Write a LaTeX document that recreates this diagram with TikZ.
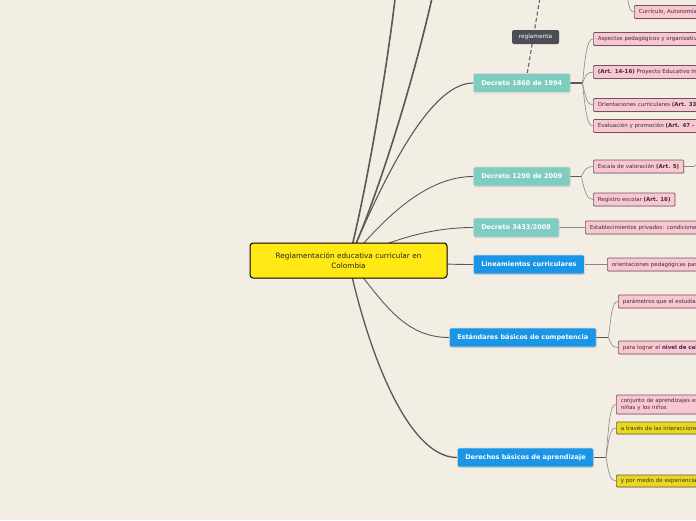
\documentclass[tikz,border=0pt]{standalone}
\usepackage{fontspec}
\setmainfont{DejaVu Sans}
\usetikzlibrary{backgrounds, shadows}
\definecolor{paper}{RGB}{243,238,227}
\definecolor{rootyellow}{RGB}{255,232,20}
\definecolor{leafyellow}{RGB}{232,216,30}
\definecolor{decteal}{RGB}{127,205,193}
\definecolor{linblue}{RGB}{27,150,230}
\definecolor{leafpink}{RGB}{250,198,210}
\definecolor{pinkedge}{RGB}{110,85,92}
\definecolor{tagdark}{RGB}{75,78,84}
\definecolor{branchgray}{RGB}{88,88,92}
\definecolor{twiggray}{RGB}{140,135,130}

\begin{document}
\begin{tikzpicture}[
    x=1pt, y=-1pt,
    rootbox/.style={rectangle, rounded corners=3pt, draw=black, line width=1pt, fill=rootyellow, minimum width=197pt, minimum height=35pt, align=center, text=black!85, font=\fontsize{7.3}{10}\selectfont},
    topic/.style={rectangle, rounded corners=1.5pt, draw=white!85!black, line width=0.6pt, minimum height=19pt, inner xsep=8pt, inner ysep=0pt, text=white, font=\fontsize{6.5}{7.8}\selectfont\bfseries, drop shadow={shadow xshift=0.5pt, shadow yshift=-0.8pt, opacity=0.3}},
    decreto/.style={topic, fill=decteal},
    guia/.style={topic, fill=linblue},
    leaf/.style={rectangle, rounded corners=1pt, draw=pinkedge, line width=0.7pt, fill=leafpink, minimum height=13pt, inner xsep=4.5pt, inner ysep=1.5pt, anchor=west, text=black!80, font=\fontsize{5.5}{6.7}\selectfont, drop shadow={shadow xshift=0.4pt, shadow yshift=-0.7pt, opacity=0.3}},
    leafy/.style={leaf, fill=leafyellow, minimum height=12pt},
    edgeleaf/.style={text width=140pt, align=left},
    tag/.style={rectangle, rounded corners=1.5pt, fill=tagdark, text=white, minimum width=47pt, minimum height=14pt, inner sep=0pt, font=\fontsize{5.8}{7}\selectfont},
    branch/.style={draw=branchgray, line width=0.9pt},
    twig/.style={draw=twiggray, line width=0.6pt},
    link/.style={draw=gray!85!black, line width=1.2pt, dash pattern=on 4pt off 2.5pt}
]
\useasboundingbox (0,0) rectangle (696,520);

% Root
\node[rootbox] (root) at (348.5,260.5) {Reglamentación educativa curricular en\\Colombia};

% Branches that run off the top
\coordinate (hid1) at (398,-30);
\coordinate (hid2) at (438,-30);
\coordinate (hid3) at (543,-20);
\coordinate (hid4) at (712,150);
\coordinate (hid5) at (627,-20);

% Decreto 1860
\node[decreto, anchor=west] (d1860) at (473,83) {Decreto 1860 de 1994};
\node[tag] (regl) at (535.5,37) {reglamenta};
\node[leaf, edgeleaf] (cur) at (634,12) {Currículo, Autonomía};
\node[leaf, edgeleaf] (asp) at (593,39) {Aspectos pedagógicos y organizativos};
\node[leaf, edgeleaf] (pei) at (593,72) {\textbf{(Art. 14-16)} Proyecto Educativo Institucional};
\node[leaf, edgeleaf] (ori) at (593,105) {Orientaciones curriculares \textbf{(Art. 33}};
\node[leaf, edgeleaf] (eva) at (593,126) {Evaluación y promoción \textbf{(Art. 47 -}};

% Decreto 1290
\node[decreto, anchor=west] (d1290) at (473,176.5) {Decreto 1290 de 2009};
\node[leaf] (esc) at (593,166.5) {Escala de valoración \textbf{(Art. 5)}};
\node[leaf] (reg) at (593,199.5) {Registro escolar \textbf{(Art. 16)}};

% Decreto 3433
\node[decreto, anchor=west] (d3433) at (473,227.5) {Decreto 3433/2008};
\node[leaf, edgeleaf] (priv) at (585,227.5) {Establecimientos privados: condiciones};

% Lineamientos
\node[guia, anchor=west] (lin) at (473,264.5) {Lineamientos curriculares};
\node[leaf, edgeleaf] (ope) at (607,264.5) {orientaciones pedagógicas para};

% Estandares
\node[guia, anchor=west] (estd) at (449,337.5) {Estándares básicos de competencia};
\node[leaf, edgeleaf] (par) at (618,301.5) {parámetros que el estudiante};
\node[leaf, edgeleaf] (niv) at (618,347.5) {para lograr el \textbf{nivel de calidad}};

% Derechos
\node[guia, anchor=west] (der) at (457,457.5) {Derechos básicos de aprendizaje};
\node[leaf, edgeleaf, minimum height=19pt] (con) at (616,404.5) {conjunto de aprendizajes estructurantes\\niñas y los niños};
\node[leafy, edgeleaf] (tra) at (616,428) {a través de las interacciones};
\node[leafy, edgeleaf] (exp) at (616,481) {y por medio de experiencias};

% Junctions
\coordinate (j1860) at ([xshift=12pt]d1860.east);
\coordinate (j1290) at ([xshift=11pt]d1290.east);
\coordinate (jestd) at ([xshift=12pt]estd.east);
\coordinate (jder) at ([xshift=12pt]der.east);

\begin{scope}[on background layer]
\fill[paper] (0,0) rectangle (696,520);

% root branches
\draw[branch, line width=1.6pt] (root.center) .. controls (368,185) and (392,40) .. (hid1);
\draw[branch, line width=1.6pt] (root.center) .. controls (375,205) and (418,70) .. (hid2);
\draw[branch, line width=1.1pt] (root.center) .. controls (375,200) and (425,83) .. (d1860.west);
\draw[branch] (root.center) .. controls (375,230) and (420,176.5) .. (d1290.west);
\draw[branch] (root.center) .. controls (390,240) and (430,227.5) .. (d3433.west);
\draw[branch] (root.center) .. controls (400,262) and (440,264.5) .. (lin.west);
\draw[branch] (root.center) .. controls (380,295) and (400,337.5) .. (estd.west);
\draw[branch, line width=1.3pt] (root.center) .. controls (365,340) and (405,457.5) .. (der.west);

% reglamenta link
\draw[link] ([xshift=5.5pt]d1860.north) -- (hid3);

% twigs
\draw[branch, line width=1.2pt] (d1860.east) -- (j1860);
\draw[twig] (hid5) .. controls +(0,22) and +(-5,0) .. (cur.west);
\draw[twig] (j1860) .. controls +(3,-29) and +(-6,0) .. (asp.west);
\draw[twig] (j1860) .. controls +(3,-7) and +(-6,0) .. (pei.west);
\draw[twig] (j1860) .. controls +(3,14) and +(-6,0) .. (ori.west);
\draw[twig] (j1860) .. controls +(3,28) and +(-6,0) .. (eva.west);

\draw[branch, line width=1.2pt] (d1290.east) -- (j1290);
\draw[twig] (j1290) .. controls +(3,-7) and +(-6,0) .. (esc.west);
\draw[twig] (j1290) .. controls +(3,15) and +(-6,0) .. (reg.west);
\draw[twig] (esc.east) -- ++(9,0) .. controls +(4,0) and +(-5,0) .. (hid4);

\draw[twig] (d3433.east) -- (priv.west);
\draw[twig] (lin.east) -- (ope.west);

\draw[branch, line width=1.2pt] (estd.east) -- (jestd);
\draw[twig] (jestd) .. controls +(3,-24) and +(-6,0) .. (par.west);
\draw[twig] (jestd) .. controls +(3,7) and +(-6,0) .. (niv.west);

\draw[branch, line width=1.2pt] (der.east) -- (jder);
\draw[twig] (jder) .. controls +(3,-35) and +(-6,0) .. (con.west);
\draw[twig] (jder) .. controls +(3,-19) and +(-6,0) .. (tra.west);
\draw[twig] (jder) .. controls +(3,16) and +(-6,0) .. (exp.west);
\end{scope}

\end{tikzpicture}
\end{document}
